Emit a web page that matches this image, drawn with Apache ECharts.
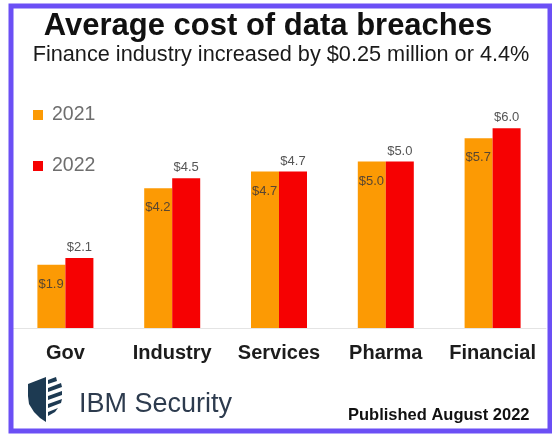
<!DOCTYPE html>
<html>
<head>
<meta charset="utf-8">
<script src="https://cdn.jsdelivr.net/npm/echarts@6/dist/echarts.min.js"></script>
<style>
  html, body {margin: 0; padding: 0; background: #fff;}
  #chart {width: 552px; height: 435px;}
</style>
</head>
<body>
<div id="chart"></div>
<script>
// values ($ million)
let categories = ['Gov', 'Industry', 'Services', 'Pharma', 'Financial'];
let years = ['2021', '2022'];
let cost2021 = [1.9, 4.2, 4.7, 5.0, 5.7];
let cost2022 = [2.1, 4.5, 4.7, 5.0, 6.0];

let money = function (p) {
    return '$' + p.value.toFixed(1);
};

let navy = '#1d3a52';
let chart = echarts.init(document.getElementById('chart'));
chart.setOption({
    backgroundColor: '#fff',
    animation: false,
    title: [
        {
            text: 'Average cost of data breaches',
            left: 263, top: 6, textAlign: 'center',
            textStyle: {fontFamily: 'Liberation Sans', fontWeight: 'bold', fontSize: 31, color: '#111'}
        },
        {
            text: 'Finance industry increased by $0.25 million or 4.4%',
            left: 276, top: 39, textAlign: 'center',
            textStyle: {fontFamily: 'Liberation Sans', fontWeight: 'normal', fontSize: 21.7, color: '#1a1a1a'}
        }
    ],
    legend: {
        orient: 'vertical', left: 28, top: 100,
        icon: 'rect', itemWidth: 10, itemHeight: 10, itemGap: 31,
        data: years,
        textStyle: {fontFamily: 'Liberation Sans', fontSize: 19.5, color: '#6e6e6e', lineHeight: 19, padding: [0, 0, 0, 4]}
    },
    grid: {left: 12, right: 6, top: 95, bottom: 107},
    xAxis: {
        type: 'category', data: categories,
        axisLine: {lineStyle: {color: '#e4e4e4', width: 1}},
        axisTick: {show: false},
        axisLabel: {
            margin: 15, interval: 0,
            fontFamily: 'Liberation Sans', fontWeight: 'bold', fontSize: 20, color: '#1c1c1c'
        }
    },
    yAxis: {type: 'value', min: 0, max: 7, show: false, splitLine: {show: false}},
    series: [
        {
            name: years[0], type: 'bar', data: cost2021,
            barWidth: 28, barGap: '0%',
            itemStyle: {color: '#fc9a04'},
            label: {
                show: true, position: [1, 13], formatter: money,
                fontFamily: 'Liberation Sans', fontSize: 13, color: '#5a4630'
            }
        },
        {
            name: years[1], type: 'bar', data: cost2022,
            barWidth: 28,
            itemStyle: {color: '#f60102'},
            label: {
                show: true, position: 'top', distance: 4, formatter: money,
                fontFamily: 'Liberation Sans', fontSize: 13, color: '#555'
            }
        }
    ],
    graphic: [
        // purple frame
        {
            type: 'rect', z: 100,
            shape: {x: 11, y: 6, width: 539, height: 425},
            style: {fill: 'none', stroke: '#6b4ff5', lineWidth: 5}
        },
        // IBM Security shield logo
        {
            type: 'polygon', z: 10,
            shape: {points: [[28, 384], [46, 377], [46, 422], [40, 418], [34, 412], [29, 404], [28, 396]]},
            style: {fill: navy}
        },
        {type: 'polygon', z: 10, shape: {points: [[48, 380], [56, 377], [57, 381], [48, 384]]}, style: {fill: navy}},
        {type: 'polygon', z: 10, shape: {points: [[48, 388], [61, 383], [62, 387], [48, 392]]}, style: {fill: navy}},
        {type: 'polygon', z: 10, shape: {points: [[48, 396], [62, 391], [62, 395], [48, 400]]}, style: {fill: navy}},
        {type: 'polygon', z: 10, shape: {points: [[48, 404], [62, 399], [61, 403], [48, 408]]}, style: {fill: navy}},
        {type: 'polygon', z: 10, shape: {points: [[48, 412], [58, 408], [55, 412], [48, 416]]}, style: {fill: navy}},
        {
            type: 'text', left: 79, top: 391, z: 10,
            style: {text: 'IBM Security', font: '27px "Liberation Sans"', fill: '#2d3b4e'}
        },
        {
            type: 'text', left: 348, top: 407, z: 10,
            style: {text: 'Published August 2022', font: 'bold 16.5px "Liberation Sans"', fill: '#111'}
        }
    ]
});
</script>
</body>
</html>
